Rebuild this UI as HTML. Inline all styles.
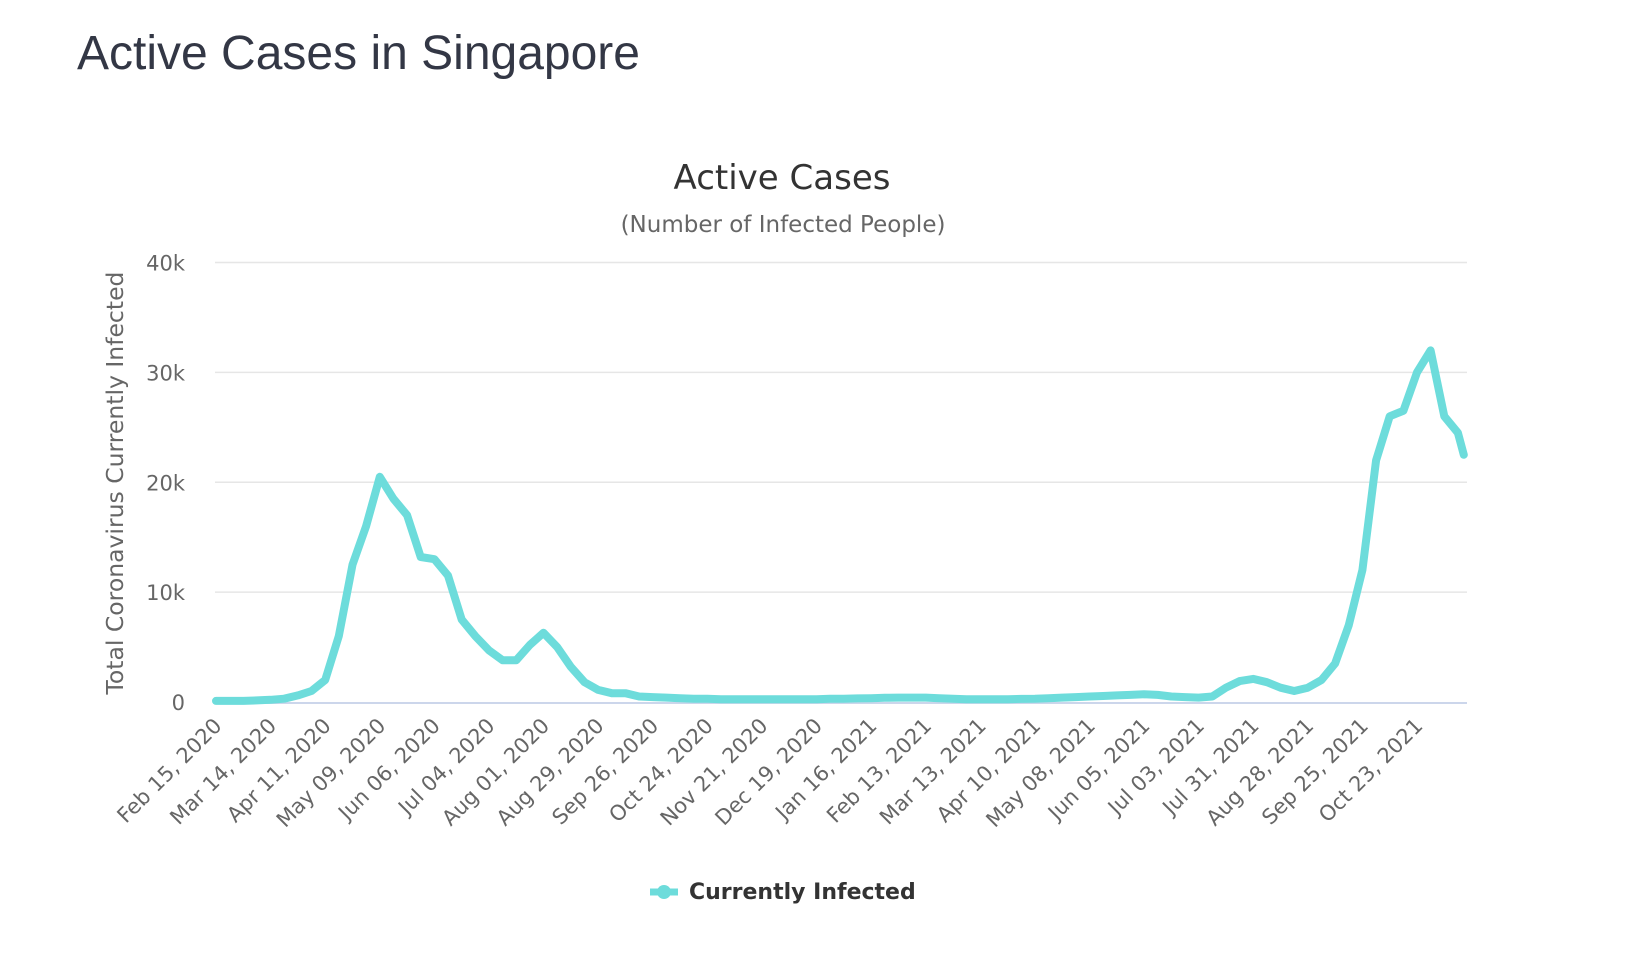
<!DOCTYPE html>
<html><head><meta charset="utf-8"><style>
html,body{margin:0;padding:0;background:#fff;width:1640px;height:960px;overflow:hidden}
h1{position:absolute;left:77px;top:26px;margin:0;font:400 48px "Liberation Sans",sans-serif;color:#333745}
svg{position:absolute;left:0;top:0}
</style></head><body>
<h1>Active Cases in Singapore</h1>
<svg id="chart" width="1640" height="960" font-family="DejaVu Sans, sans-serif"></svg>
<script>
const tickLabels=["Feb 15, 2020","Mar 14, 2020","Apr 11, 2020","May 09, 2020","Jun 06, 2020","Jul 04, 2020","Aug 01, 2020","Aug 29, 2020","Sep 26, 2020","Oct 24, 2020","Nov 21, 2020","Dec 19, 2020","Jan 16, 2021","Feb 13, 2021","Mar 13, 2021","Apr 10, 2021","May 08, 2021","Jun 05, 2021","Jul 03, 2021","Jul 31, 2021","Aug 28, 2021","Sep 25, 2021","Oct 23, 2021"];
const yTicks=[0,10000,20000,30000,40000];
const yTickLabels=["0","10k","20k","30k","40k"];
// weekly values starting Feb 15, 2020 (week index)
const weeklyCases=[100,100,100,150,200,300,600,1000,2000,6000,12500,16000,20500,18500,17000,13200,13000,11500,7500,6000,4700,3800,3800,5200,6300,5000,3200,1800,1100,800,800,500,450,400,350,300,300,250,250,250,250,250,250,250,250,300,300,330,350,380,400,400,400,350,300,250,250,250,250,280,300,350,400,450,500,550,600,650,700,650,500,450,400,500,1300,1900,2100,1800,1300,1000,1300,2000,3500,7000,12000,22000,26000,26500,30000,32000,26000,24500];
const lastDay=640, lastValue=22500;

const svg=document.getElementById('chart');
const NS='http://www.w3.org/2000/svg';
const X0=215, X1=1467, Y0=702, Y40=262.5;
const dayPx=(1416-X0)/616;
const xs=d=>X0+1+d*dayPx;
const ys=v=>Y0-(v/40000)*(Y0-Y40);
function mk(tag,attrs,parent){const e=document.createElementNS(NS,tag);for(const k in attrs)e.setAttribute(k,attrs[k]);(parent||svg).appendChild(e);return e;}

let t=mk('text',{x:782,y:189,'text-anchor':'middle','font-size':34,fill:'#333'});t.textContent='Active Cases';


t=mk('text',{x:783,y:232,'text-anchor':'middle','font-size':23,fill:'#666'});t.textContent='(Number of Infected People)';



yTicks.forEach((v,i)=>{
  const y=ys(v);
  if(v>0){const g=mk('line',{x1:X0,x2:X1,y1:y,y2:y,stroke:'#e6e6e6','stroke-width':1.5});
  
  }
  const l=mk('text',{x:185,y:y+8,'text-anchor':'end','font-size':21,fill:'#666'});l.textContent=yTickLabels[i];
  
  
});
let a=mk('line',{x1:X0,x2:X1,y1:Y0+1,y2:Y0+1,stroke:'#ccd6eb','stroke-width':2});


t=mk('text',{x:0,y:0,transform:'translate(123,483) rotate(-90)','text-anchor':'middle','font-size':23.5,fill:'#666'});t.textContent='Total Coronavirus Currently Infected';



tickLabels.forEach((s,i)=>{
  const x=xs(i*28);
  const l=mk('text',{x:0,y:0,transform:`translate(${x+7},${727}) rotate(-45)`,'text-anchor':'end','font-size':21,fill:'#666'});l.textContent=s;
  
  
});

let pts=weeklyCases.map((v,i)=>xs(i*7).toFixed(1)+','+ys(v).toFixed(1));
pts.push(xs(lastDay).toFixed(1)+','+ys(lastValue).toFixed(1));
const p=mk('polyline',{points:pts.join(' '),fill:'none',stroke:'#6ddcdb','stroke-width':8,'stroke-linejoin':'round','stroke-linecap':'round'});



const lg=mk('g',{});


mk('line',{x1:650,x2:678,y1:892,y2:892,stroke:'#6ddcdb','stroke-width':7},lg);
mk('circle',{cx:664,cy:892,r:7,fill:'#6ddcdb'},lg);
t=mk('text',{x:689,y:899,'font-size':22,'font-weight':'bold',fill:'#333'},lg);t.textContent='Currently Infected';
</script>
</body></html>
